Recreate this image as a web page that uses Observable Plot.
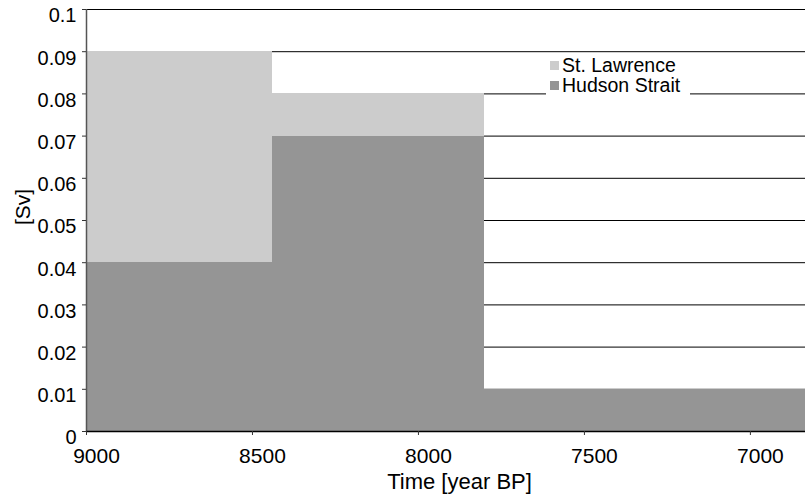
<!DOCTYPE html>
<html>
<head>
<meta charset="utf-8">
<script src="https://cdn.jsdelivr.net/npm/d3@7"></script>
<script src="https://cdn.jsdelivr.net/npm/@observablehq/plot@0.6"></script>
<style>
  html, body { margin: 0; padding: 0; background: #fff; }
  #wrap { position: relative; width: 805px; height: 495px; font-family: "Liberation Sans", Arial, sans-serif; }
  #legend { position: absolute; left: 546px; top: 53px; width: 144px; height: 42px; box-sizing: border-box; padding-top: 2px; background: #fff; font-size: 19.5px; line-height: 20px; color: #000; }
  #legend .row { display: flex; align-items: center; padding-left: 4px; height: 20px; }
  #legend .sw { width: 9px; height: 9px; margin-right: 3px; }
</style>
</head>
<body>
<div id="wrap"><div id="chart"></div>
<div id="legend"></div></div>
<script>
// Data
const periodStart = [9000, 8440, 7800];
const periodEnd   = [8440, 7800, 6834];
const hudsonStrait = [0.04, 0.07, 0.01];
const stLawrence   = [0.05, 0.01, 0.0];
const seriesNames  = ["Hudson Strait", "St. Lawrence"];
const seriesColors = ["#959595", "#cccccc"];
const yTicks = [0, 0.01, 0.02, 0.03, 0.04, 0.05, 0.06, 0.07, 0.08, 0.09, 0.1];
const xTicks = [9000, 8500, 8000, 7500, 7000];
const xTitle = "Time [year BP]";
const yTitle = "[Sv]";

const rows = [];
periodStart.forEach((s, i) => {
  rows.push({x1: s, x2: periodEnd[i], series: seriesNames[0], v: hudsonStrait[i]});
  rows.push({x1: s, x2: periodEnd[i], series: seriesNames[1], v: stLawrence[i]});
});

const fmt = d => d === 0 ? "0" : String(+d.toFixed(2));
const FONT = "'Liberation Sans', Arial, sans-serif";

const chart = Plot.plot({
  width: 805,
  height: 495,
  marginLeft: 86,
  marginRight: 0,
  marginTop: 9,
  marginBottom: 64,
  style: {fontFamily: FONT, fontSize: "20px", color: "#000", background: "#fff", overflow: "visible"},
  x: {domain: [9000, 6834], range: [86, 805]},
  y: {domain: [0, 0.1]},
  color: {domain: seriesNames, range: seriesColors},
  marks: [
    Plot.gridY(yTicks, {stroke: "#000", strokeOpacity: 1, strokeWidth: 1}),
    Plot.rectY(rows, {x1: "x1", x2: "x2", y: "v", fill: "series", order: seriesNames, inset: 0, shapeRendering: "crispEdges"}),
    Plot.ruleX([9000], {stroke: "#555", strokeWidth: 1.5}),
    Plot.ruleY([0], {stroke: "#000", strokeWidth: 1.5}),
    Plot.axisY(yTicks, {tickSize: 4, tickFormat: () => "", label: null, stroke: "#333"}),
    Plot.axisX(xTicks, {tickSize: 4, tickFormat: () => "", label: null, stroke: "#333"}),
    Plot.text(yTicks, {x: () => 9000, y: d => d, text: fmt, dx: -10, dy: 6.5, textAnchor: "end", fontSize: 20, fill: "#000"}),
    Plot.text(xTicks, {x: d => d, y: () => 0, text: d => String(d), dx: 10, dy: 17, lineAnchor: "top", fontSize: 21, fill: "#000"}),
    Plot.text([xTitle], {frameAnchor: "bottom", dx: 13.5, dy: 42, lineAnchor: "top", fontSize: 22, fill: "#000"}),
    Plot.text([yTitle], {x: () => 9190, y: () => 0.0532, rotate: -90, textAnchor: "middle", fontSize: 21, fill: "#000"})
  ]
});
document.getElementById("chart").appendChild(chart);

const legend = document.getElementById("legend");
[1, 0].forEach(i => {
  const r = document.createElement("div");
  r.className = "row";
  r.innerHTML = `<span class="sw" style="background:${seriesColors[i]}"></span><span>${seriesNames[i]}</span>`;
  legend.appendChild(r);
});
</script>
</body>
</html>
